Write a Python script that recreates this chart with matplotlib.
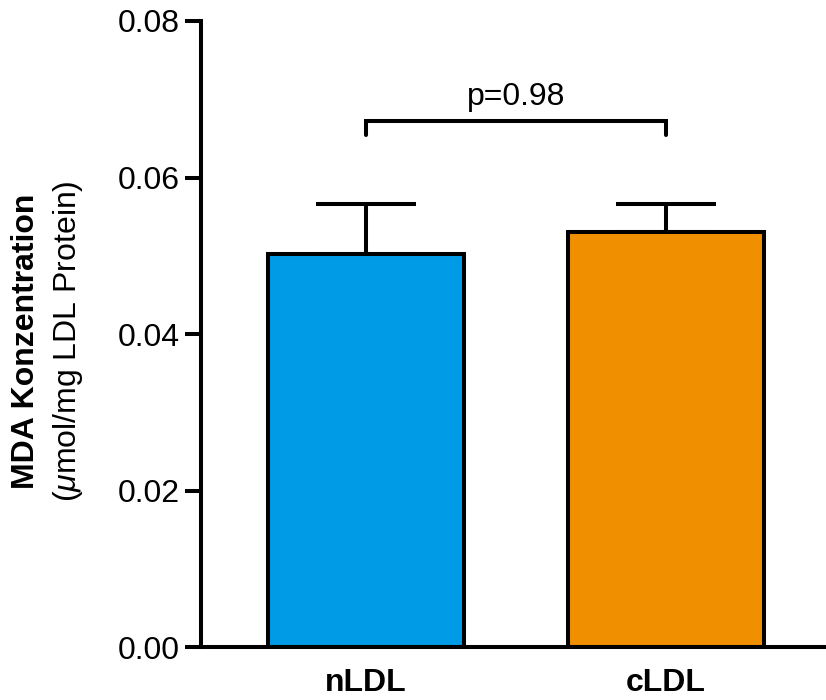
import matplotlib
matplotlib.use("Agg")
import matplotlib.pyplot as plt

plt.rcParams['font.family'] = ['Liberation Sans', 'DejaVu Sans']
plt.rcParams['mathtext.fontset'] = 'custom'
plt.rcParams['mathtext.it'] = 'Liberation Sans:italic'

groups = ['nLDL', 'cLDL']
means = [0.0502, 0.0530]
sem = [0.0064, 0.0036]
colors = ['#009BE6', '#F08F00']
p_text = 'p=0.98'
yticks = [0.00, 0.02, 0.04, 0.06, 0.08]

fig = plt.figure(figsize=(8.26, 7.0), dpi=100)
ax = fig.add_axes([0.2433, 0.0757, 0.7567, 0.8943])

lw = 2.9
fs = 23
x = range(len(groups))
ax.bar(x, means, width=0.655, color=colors, edgecolor='black', linewidth=lw, zorder=2)
ax.errorbar(x, means, yerr=[[0, 0], sem], fmt='none', ecolor='black',
            elinewidth=lw, capsize=36, capthick=lw, zorder=1)

# significance bracket between the two bars
yb, yt = 0.0654, 0.0672
ax.plot([0, 0, 1, 1], [yb, yt, yt, yb], color='black', lw=lw,
        solid_capstyle='round', solid_joinstyle='miter', clip_on=False)
ax.text(0.5, 0.0684, p_text, ha='center', va='bottom', fontsize=fs)

ax.set_xlim(-0.55, 1.533)
ax.set_ylim(0, 0.08)
ax.set_yticks(yticks)
ax.set_yticklabels([f'{v:.2f}' for v in yticks], fontsize=fs)
ax.set_xticks(list(x))
ax.set_xticklabels(groups, fontsize=fs, fontweight='bold')

for s in ['top', 'right']:
    ax.spines[s].set_visible(False)
for s in ['left', 'bottom']:
    ax.spines[s].set_linewidth(lw)
    ax.spines[s].set_capstyle('projecting')
ax.tick_params(axis='y', length=11.5, width=lw, pad=3.5)
ax.tick_params(axis='x', length=0, pad=15)

fig.text(0.031, 0.513, 'MDA Konzentration', rotation=90, ha='center', va='center',
         fontsize=fs, fontweight='bold')
fig.text(0.082, 0.513, '($\\mathit{\\mu}$mol/mg LDL Protein)', rotation=90,
         ha='center', va='center', fontsize=fs)

fig.savefig('out.png', dpi=100)
